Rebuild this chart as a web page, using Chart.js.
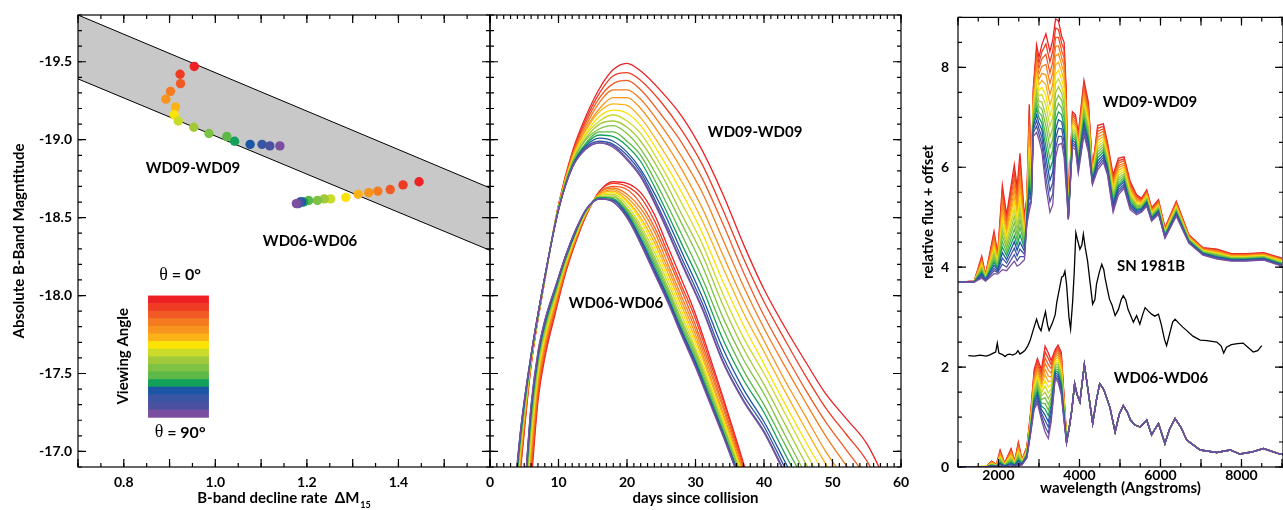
<!DOCTYPE html>
<html>
<head>
<meta charset="utf-8">
<script src="https://cdn.jsdelivr.net/npm/chart.js@4.4.1/dist/chart.umd.min.js"></script>
<style>
html, body { margin: 0; padding: 0; background: #fff; }
#wrap { position: relative; width: 1283px; height: 510px; overflow: hidden; }
#wrap canvas { position: absolute; left: 0; top: 0; }
</style>
</head>
<body>
<div id="wrap">
<canvas id="decline" width="1283" height="510"></canvas>
<canvas id="curves" width="1283" height="510"></canvas>
<canvas id="spectra" width="1283" height="510"></canvas>
</div>
<script>
// viewing angle 0 deg (red) ... 90 deg (purple)
var angleColors = ['#ed2024','#ef3b24','#f15a24','#f47b20','#f7941d','#fbb216','#fde304','#cbdb2a',
                   '#a2c93a','#7dc243','#5cb947','#13a05b','#1b55a5','#3a55a4','#4a51a1','#7b4f9f'];

// left panel: peak B magnitude vs decline rate
var wd09Decline = [0.954,0.923,0.924,0.902,0.892,0.913,0.910,0.919,0.953,0.986,1.025,1.042,1.076,1.102,1.119,1.141];
var wd09Peak = [-19.47,-19.42,-19.36,-19.31,-19.26,-19.21,-19.16,-19.12,-19.08,-19.04,-19.02,-18.99,-18.97,-18.97,-18.96,-18.96];
var wd06Decline = [1.445,1.410,1.382,1.355,1.335,1.312,1.285,1.252,1.238,1.223,1.204,1.193,1.188,1.185,1.181,1.177];
var wd06Peak = [-18.73,-18.71,-18.68,-18.67,-18.66,-18.65,-18.63,-18.62,-18.62,-18.61,-18.61,-18.60,-18.60,-18.60,-18.59,-18.59];
var bandX = [0.7, 1.6];
var bandUpper = [-19.80, -18.69];
var bandLower = [-19.39, -18.29];
var declineTicks = [0.8, 1.0, 1.2, 1.4];
var magTicks = [-19.5, -19.0, -18.5, -18.0, -17.5, -17.0];

// middle panel: B light curves, one row per day, one column per angle
var wd09Days = [3,4.5,6,8,10,12,14,16,18,20,22,25,28,31,34,37,40,43,46,49,52,55,58];
var wd09Mag = [
[-16.25,-16.27,-16.29,-16.30,-16.32,-16.34,-16.35,-16.37,-16.38,-16.40,-16.41,-16.42,-16.43,-16.44,-16.45,-16.45],
[-16.90,-16.92,-16.95,-16.97,-16.99,-17.01,-17.03,-17.05,-17.07,-17.08,-17.10,-17.12,-17.13,-17.14,-17.15,-17.15],
[-17.55,-17.56,-17.56,-17.57,-17.58,-17.58,-17.59,-17.59,-17.60,-17.60,-17.61,-17.61,-17.61,-17.62,-17.62,-17.62],
[-18.10,-18.10,-18.10,-18.11,-18.11,-18.11,-18.11,-18.11,-18.11,-18.11,-18.12,-18.12,-18.12,-18.12,-18.12,-18.12],
[-18.58,-18.58,-18.57,-18.57,-18.57,-18.57,-18.56,-18.56,-18.56,-18.56,-18.56,-18.55,-18.55,-18.55,-18.55,-18.55],
[-18.92,-18.91,-18.90,-18.89,-18.88,-18.88,-18.87,-18.86,-18.85,-18.85,-18.84,-18.83,-18.83,-18.82,-18.82,-18.82],
[-19.15,-19.13,-19.11,-19.09,-19.07,-19.06,-19.04,-19.03,-19.01,-19.00,-18.98,-18.97,-18.96,-18.95,-18.94,-18.94],
[-19.33,-19.30,-19.27,-19.24,-19.20,-19.18,-19.15,-19.12,-19.10,-19.07,-19.05,-19.03,-19.01,-18.99,-18.98,-18.98],
[-19.45,-19.41,-19.36,-19.32,-19.27,-19.23,-19.19,-19.16,-19.12,-19.09,-19.05,-19.02,-18.99,-18.97,-18.96,-18.95],
[-19.49,-19.43,-19.38,-19.32,-19.27,-19.22,-19.17,-19.12,-19.08,-19.04,-18.99,-18.96,-18.92,-18.90,-18.88,-18.87],
[-19.44,-19.38,-19.32,-19.26,-19.20,-19.14,-19.09,-19.04,-18.99,-18.94,-18.90,-18.86,-18.81,-18.79,-18.77,-18.76],
[-19.31,-19.24,-19.16,-19.09,-19.02,-18.95,-18.89,-18.83,-18.78,-18.72,-18.66,-18.61,-18.57,-18.53,-18.51,-18.50],
[-19.15,-19.06,-18.98,-18.89,-18.81,-18.73,-18.66,-18.59,-18.52,-18.46,-18.39,-18.33,-18.28,-18.24,-18.21,-18.20],
[-18.93,-18.84,-18.75,-18.66,-18.56,-18.48,-18.40,-18.33,-18.26,-18.19,-18.11,-18.05,-17.99,-17.95,-17.92,-17.91],
[-18.65,-18.55,-18.46,-18.36,-18.26,-18.18,-18.09,-18.01,-17.94,-17.86,-17.79,-17.72,-17.66,-17.61,-17.58,-17.57],
[-18.33,-18.24,-18.15,-18.06,-17.97,-17.89,-17.81,-17.73,-17.66,-17.59,-17.52,-17.46,-17.40,-17.36,-17.33,-17.32],
[-18.04,-17.96,-17.87,-17.79,-17.71,-17.64,-17.56,-17.50,-17.43,-17.37,-17.30,-17.25,-17.19,-17.16,-17.13,-17.12],
[-17.80,-17.72,-17.63,-17.55,-17.46,-17.39,-17.31,-17.25,-17.18,-17.11,-17.05,-16.99,-16.94,-16.90,-16.87,-16.86],
[-17.58,-17.49,-17.40,-17.32,-17.23,-17.15,-17.07,-17.00,-16.93,-16.86,-16.80,-16.74,-16.68,-16.64,-16.61,-16.60],
[-17.37,-17.28,-17.19,-17.10,-17.00,-16.92,-16.84,-16.77,-16.70,-16.63,-16.55,-16.49,-16.43,-16.39,-16.36,-16.35],
[-17.21,-17.11,-17.01,-16.91,-16.81,-16.72,-16.63,-16.56,-16.48,-16.40,-16.32,-16.26,-16.19,-16.14,-16.11,-16.10],
[-17.05,-16.94,-16.83,-16.73,-16.62,-16.52,-16.43,-16.34,-16.26,-16.17,-16.09,-16.02,-15.95,-15.90,-15.86,-15.85],
[-16.79,-16.68,-16.58,-16.47,-16.36,-16.27,-16.17,-16.09,-16.01,-15.92,-15.84,-15.77,-15.70,-15.65,-15.61,-15.60]
];
var wd06Days = [4,5,6,7,8,9.5,11,12.5,14,16,18,20,22,24,26,28,30,32,34,36,38];
var wd06Mag = [
[-15.90,-15.93,-15.96,-15.99,-16.02,-16.04,-16.07,-16.09,-16.11,-16.13,-16.15,-16.16,-16.18,-16.19,-16.19,-16.20],
[-16.35,-16.39,-16.42,-16.46,-16.49,-16.53,-16.56,-16.59,-16.61,-16.64,-16.66,-16.68,-16.69,-16.70,-16.71,-16.72],
[-16.80,-16.85,-16.90,-16.95,-17.00,-17.04,-17.08,-17.12,-17.16,-17.19,-17.22,-17.24,-17.26,-17.28,-17.29,-17.30],
[-17.32,-17.35,-17.38,-17.42,-17.45,-17.47,-17.50,-17.53,-17.55,-17.57,-17.59,-17.60,-17.61,-17.62,-17.63,-17.64],
[-17.60,-17.62,-17.65,-17.67,-17.69,-17.72,-17.73,-17.75,-17.77,-17.79,-17.80,-17.81,-17.82,-17.83,-17.84,-17.84],
[-17.88,-17.90,-17.91,-17.93,-17.95,-17.96,-17.98,-17.99,-18.00,-18.01,-18.02,-18.03,-18.04,-18.04,-18.05,-18.05],
[-18.14,-18.15,-18.16,-18.17,-18.18,-18.19,-18.20,-18.21,-18.22,-18.22,-18.23,-18.24,-18.24,-18.25,-18.25,-18.25],
[-18.34,-18.35,-18.36,-18.36,-18.37,-18.38,-18.38,-18.39,-18.40,-18.40,-18.41,-18.41,-18.41,-18.42,-18.42,-18.42],
[-18.51,-18.51,-18.52,-18.52,-18.53,-18.53,-18.53,-18.54,-18.54,-18.54,-18.54,-18.55,-18.55,-18.55,-18.55,-18.55],
[-18.67,-18.67,-18.66,-18.66,-18.65,-18.65,-18.64,-18.64,-18.63,-18.63,-18.63,-18.63,-18.62,-18.62,-18.62,-18.62],
[-18.73,-18.72,-18.70,-18.69,-18.68,-18.67,-18.66,-18.65,-18.64,-18.63,-18.62,-18.62,-18.61,-18.61,-18.60,-18.60],
[-18.72,-18.70,-18.68,-18.65,-18.63,-18.61,-18.60,-18.58,-18.56,-18.55,-18.54,-18.53,-18.52,-18.51,-18.50,-18.50],
[-18.66,-18.63,-18.59,-18.56,-18.53,-18.50,-18.48,-18.45,-18.43,-18.41,-18.39,-18.37,-18.36,-18.35,-18.34,-18.33],
[-18.52,-18.48,-18.44,-18.41,-18.37,-18.34,-18.31,-18.28,-18.25,-18.23,-18.21,-18.19,-18.17,-18.16,-18.15,-18.14],
[-18.31,-18.27,-18.24,-18.20,-18.17,-18.14,-18.11,-18.08,-18.05,-18.03,-18.01,-17.99,-17.98,-17.97,-17.96,-17.95],
[-18.10,-18.06,-18.03,-17.99,-17.96,-17.93,-17.90,-17.87,-17.84,-17.82,-17.80,-17.78,-17.77,-17.76,-17.75,-17.74],
[-17.88,-17.85,-17.81,-17.78,-17.75,-17.72,-17.69,-17.66,-17.64,-17.62,-17.60,-17.58,-17.57,-17.56,-17.55,-17.54],
[-17.62,-17.59,-17.56,-17.53,-17.50,-17.48,-17.45,-17.43,-17.41,-17.39,-17.37,-17.36,-17.34,-17.34,-17.33,-17.32],
[-17.35,-17.33,-17.30,-17.28,-17.25,-17.23,-17.21,-17.19,-17.17,-17.16,-17.14,-17.13,-17.12,-17.11,-17.11,-17.10],
[-17.07,-17.05,-17.03,-17.01,-16.99,-16.97,-16.96,-16.94,-16.93,-16.92,-16.90,-16.89,-16.89,-16.88,-16.87,-16.87],
[-16.78,-16.77,-16.75,-16.74,-16.73,-16.71,-16.70,-16.69,-16.68,-16.67,-16.66,-16.66,-16.65,-16.65,-16.64,-16.64]
];
var dayTicks = [0, 10, 20, 30, 40, 50, 60];

// right panel: spectra (relative flux + offset), one row per wavelength
var wd09Wave = [1000,1400,1585,1680,1890,1980,2095,2200,2390,2460,2530,2640,2700,2760,2810,2860,2940,3000,3070,3170,
  3270,3340,3410,3480,3560,3620,3670,3725,3825,3900,3970,4110,4220,4320,4450,4590,4690,4830,4960,5100,
  5250,5410,5530,5660,5780,5950,6110,6390,6700,7050,7400,7750,8100,8550,9000];
var wd09Flux = [
[3.70,3.70,3.70,3.70,3.70,3.70,3.70,3.70,3.70,3.70,3.70,3.70,3.70,3.70,3.70,3.70],
[3.72,3.72,3.72,3.72,3.71,3.71,3.71,3.71,3.71,3.71,3.71,3.71,3.70,3.70,3.70,3.70],
[4.22,4.19,4.16,4.13,4.10,4.07,4.04,4.01,3.99,3.96,3.93,3.90,3.87,3.84,3.81,3.78],
[3.85,3.84,3.83,3.82,3.82,3.81,3.80,3.79,3.78,3.77,3.76,3.75,3.75,3.74,3.73,3.72],
[4.72,4.66,4.61,4.55,4.49,4.44,4.38,4.32,4.27,4.21,4.15,4.10,4.04,3.98,3.93,3.87],
[4.26,4.23,4.21,4.18,4.15,4.13,4.10,4.07,4.05,4.02,3.99,3.97,3.94,3.91,3.89,3.86],
[5.64,5.53,5.41,5.30,5.19,5.08,4.96,4.85,4.74,4.63,4.51,4.40,4.29,4.18,4.06,3.95],
[5.05,4.98,4.90,4.83,4.75,4.68,4.60,4.53,4.45,4.38,4.30,4.23,4.15,4.08,4.00,3.93],
[6.05,5.92,5.79,5.66,5.54,5.41,5.28,5.15,5.02,4.89,4.76,4.63,4.51,4.38,4.25,4.12],
[5.60,5.49,5.39,5.28,5.18,5.07,4.97,4.86,4.76,4.65,4.55,4.44,4.34,4.23,4.13,4.02],
[6.28,6.13,5.98,5.84,5.69,5.54,5.39,5.24,5.10,4.95,4.80,4.65,4.50,4.36,4.21,4.06],
[5.00,4.94,4.89,4.83,4.77,4.72,4.66,4.60,4.55,4.49,4.43,4.38,4.32,4.26,4.21,4.15],
[5.40,5.36,5.33,5.29,5.25,5.22,5.18,5.14,5.11,5.07,5.03,5.00,4.96,4.92,4.89,4.85],
[7.26,7.12,6.97,6.83,6.69,6.55,6.40,6.26,6.12,5.98,5.83,5.69,5.55,5.41,5.26,5.12],
[5.60,5.58,5.56,5.54,5.52,5.50,5.48,5.46,5.44,5.42,5.40,5.38,5.36,5.34,5.32,5.30],
[7.60,7.53,7.47,7.40,7.34,7.27,7.21,7.14,7.08,7.01,6.95,6.88,6.82,6.75,6.69,6.62],
[8.45,8.33,8.22,8.10,7.98,7.87,7.75,7.63,7.52,7.40,7.28,7.17,7.05,6.93,6.82,6.70],
[8.20,8.09,7.98,7.87,7.76,7.65,7.54,7.43,7.32,7.21,7.10,6.99,6.88,6.77,6.66,6.55],
[8.45,8.31,8.17,8.02,7.88,7.74,7.60,7.46,7.31,7.17,7.03,6.89,6.75,6.60,6.46,6.32],
[8.67,8.47,8.26,8.06,7.85,7.65,7.44,7.24,7.03,6.83,6.62,6.42,6.21,6.01,5.80,5.60],
[8.32,8.11,7.89,7.68,7.46,7.25,7.03,6.82,6.60,6.39,6.17,5.96,5.74,5.53,5.31,5.10],
[8.55,8.33,8.11,7.89,7.67,7.45,7.23,7.01,6.79,6.57,6.35,6.13,5.91,5.69,5.47,5.25],
[8.97,8.79,8.60,8.42,8.23,8.05,7.86,7.68,7.49,7.31,7.12,6.94,6.75,6.57,6.38,6.20],
[8.93,8.76,8.60,8.43,8.27,8.10,7.94,7.77,7.61,7.44,7.28,7.11,6.95,6.78,6.62,6.45],
[8.62,8.48,8.33,8.19,8.05,7.91,7.76,7.62,7.48,7.34,7.19,7.05,6.91,6.77,6.62,6.48],
[8.50,8.35,8.19,8.04,7.89,7.73,7.58,7.43,7.27,7.12,6.97,6.81,6.66,6.51,6.35,6.20],
[7.60,7.47,7.33,7.20,7.07,6.93,6.80,6.67,6.53,6.40,6.27,6.13,6.00,5.87,5.73,5.60],
[5.10,5.09,5.08,5.07,5.06,5.05,5.04,5.03,5.02,5.01,5.00,4.99,4.98,4.97,4.96,4.95],
[7.11,7.06,7.02,6.97,6.92,6.87,6.83,6.78,6.73,6.68,6.64,6.59,6.54,6.49,6.45,6.40],
[7.05,7.00,6.96,6.91,6.86,6.82,6.77,6.72,6.68,6.63,6.58,6.54,6.49,6.44,6.40,6.35],
[6.68,6.63,6.57,6.52,6.47,6.41,6.36,6.31,6.25,6.20,6.15,6.09,6.04,5.99,5.93,5.88],
[7.74,7.67,7.59,7.52,7.45,7.38,7.30,7.23,7.16,7.09,7.01,6.94,6.87,6.80,6.72,6.65],
[7.30,7.23,7.17,7.10,7.03,6.97,6.90,6.83,6.77,6.70,6.63,6.57,6.50,6.43,6.37,6.30],
[5.98,5.96,5.94,5.91,5.89,5.87,5.85,5.83,5.80,5.78,5.76,5.74,5.72,5.69,5.67,5.65],
[6.84,6.78,6.72,6.66,6.60,6.54,6.48,6.42,6.37,6.31,6.25,6.19,6.13,6.07,6.01,5.95],
[6.87,6.82,6.77,6.72,6.66,6.61,6.56,6.51,6.46,6.41,6.36,6.31,6.25,6.20,6.15,6.10],
[6.50,6.46,6.41,6.37,6.33,6.28,6.24,6.20,6.15,6.11,6.07,6.02,5.98,5.94,5.89,5.85],
[5.85,5.80,5.75,5.70,5.65,5.60,5.55,5.50,5.45,5.40,5.35,5.30,5.25,5.20,5.15,5.10],
[6.18,6.13,6.08,6.03,5.99,5.94,5.89,5.84,5.79,5.74,5.69,5.64,5.60,5.55,5.50,5.45],
[6.21,6.17,6.13,6.08,6.04,6.00,5.96,5.92,5.87,5.83,5.79,5.75,5.71,5.66,5.62,5.58],
[5.72,5.68,5.64,5.61,5.57,5.53,5.49,5.45,5.42,5.38,5.34,5.30,5.26,5.23,5.19,5.15],
[5.45,5.42,5.40,5.37,5.34,5.32,5.29,5.26,5.24,5.21,5.18,5.16,5.13,5.10,5.08,5.05],
[5.38,5.36,5.34,5.32,5.31,5.29,5.27,5.25,5.23,5.21,5.19,5.17,5.16,5.14,5.12,5.10],
[5.55,5.53,5.51,5.48,5.46,5.44,5.42,5.40,5.37,5.35,5.33,5.31,5.29,5.26,5.24,5.22],
[5.19,5.17,5.15,5.14,5.12,5.10,5.08,5.06,5.05,5.03,5.01,4.99,4.97,4.96,4.94,4.92],
[5.35,5.33,5.31,5.29,5.27,5.25,5.23,5.21,5.20,5.18,5.16,5.14,5.12,5.10,5.08,5.06],
[4.79,4.78,4.76,4.75,4.73,4.72,4.71,4.69,4.68,4.66,4.65,4.64,4.62,4.61,4.59,4.58],
[5.32,5.30,5.28,5.26,5.24,5.22,5.20,5.18,5.16,5.14,5.12,5.10,5.08,5.06,5.04,5.02],
[4.65,4.64,4.63,4.62,4.60,4.59,4.58,4.57,4.56,4.55,4.54,4.53,4.51,4.50,4.49,4.48],
[4.39,4.38,4.37,4.36,4.35,4.34,4.33,4.32,4.31,4.30,4.29,4.28,4.27,4.26,4.25,4.24],
[4.36,4.35,4.33,4.32,4.31,4.29,4.28,4.27,4.25,4.24,4.23,4.21,4.20,4.19,4.17,4.16],
[4.27,4.26,4.25,4.24,4.23,4.22,4.21,4.20,4.19,4.18,4.17,4.16,4.15,4.14,4.13,4.12],
[4.27,4.26,4.25,4.24,4.23,4.22,4.21,4.20,4.19,4.18,4.17,4.16,4.15,4.14,4.13,4.12],
[4.29,4.28,4.27,4.26,4.25,4.24,4.23,4.22,4.21,4.20,4.19,4.18,4.17,4.16,4.15,4.14],
[4.18,4.17,4.16,4.15,4.14,4.13,4.12,4.11,4.09,4.08,4.07,4.06,4.05,4.04,4.03,4.02]
];
// WD06-WD06 differs with angle only in the UV; redward of 3700 A the angles coincide
var wd06Wave = [1000,1700,1830,1950,2040,2150,2310,2400,2490,2580,2700,2800,2880,2960,3060,3150,3230,3300,3400,3470,3550,3620,3680];
var wd06Flux = [
[0,0,0,0,0,0,0,0,0,0,0,0,0,0,0,0],
[0.01,0.01,0.01,0.01,0.01,0.01,0.01,0.01,0,0,0,0,0,0,0,0],
[0.12,0.11,0.10,0.10,0.09,0.08,0.07,0.06,0.06,0.05,0.04,0.03,0.02,0.02,0.01,0],
[0.05,0.05,0.04,0.04,0.04,0.03,0.03,0.03,0.02,0.02,0.02,0.01,0.01,0.01,0,0],
[0.34,0.32,0.29,0.27,0.25,0.23,0.20,0.18,0.16,0.14,0.11,0.09,0.07,0.05,0.02,0],
[0.08,0.07,0.07,0.06,0.06,0.05,0.05,0.04,0.04,0.03,0.03,0.02,0.02,0.01,0.01,0],
[0.37,0.35,0.32,0.30,0.27,0.25,0.22,0.20,0.17,0.15,0.12,0.10,0.07,0.05,0.02,0],
[0.12,0.11,0.11,0.10,0.09,0.08,0.08,0.07,0.06,0.05,0.05,0.04,0.03,0.02,0.02,0.01],
[0.50,0.47,0.44,0.40,0.37,0.34,0.31,0.28,0.24,0.21,0.18,0.15,0.12,0.08,0.05,0.02],
[0.15,0.14,0.14,0.13,0.12,0.11,0.11,0.10,0.09,0.08,0.08,0.07,0.06,0.05,0.05,0.04],
[0.40,0.39,0.37,0.36,0.34,0.33,0.31,0.30,0.28,0.27,0.25,0.24,0.22,0.21,0.19,0.18],
[1.15,1.12,1.09,1.06,1.03,1.00,0.97,0.94,0.91,0.88,0.85,0.82,0.79,0.76,0.73,0.70],
[1.95,1.90,1.84,1.79,1.74,1.68,1.63,1.58,1.52,1.47,1.42,1.36,1.31,1.26,1.20,1.15],
[2.17,2.11,2.05,1.99,1.93,1.87,1.81,1.75,1.70,1.64,1.58,1.52,1.46,1.40,1.34,1.28],
[1.95,1.88,1.82,1.75,1.68,1.62,1.55,1.48,1.42,1.35,1.28,1.22,1.15,1.08,1.02,0.95],
[2.42,2.31,2.19,2.08,1.96,1.85,1.73,1.62,1.50,1.39,1.27,1.16,1.04,0.93,0.81,0.70],
[2.28,2.17,2.05,1.94,1.82,1.71,1.60,1.48,1.37,1.25,1.14,1.03,0.91,0.80,0.68,0.57],
[2.13,2.05,1.97,1.88,1.80,1.72,1.64,1.56,1.47,1.39,1.31,1.23,1.15,1.06,0.98,0.90],
[2.35,2.31,2.27,2.23,2.20,2.16,2.12,2.08,2.04,2.00,1.96,1.93,1.89,1.85,1.81,1.77],
[2.44,2.39,2.34,2.29,2.24,2.19,2.14,2.09,2.05,2.00,1.95,1.90,1.85,1.80,1.75,1.70],
[2.30,2.24,2.19,2.13,2.07,2.02,1.96,1.90,1.85,1.79,1.73,1.68,1.62,1.56,1.51,1.45],
[1.40,1.37,1.33,1.30,1.27,1.23,1.20,1.17,1.13,1.10,1.07,1.03,1.00,0.97,0.93,0.90],
[0.60,0.59,0.58,0.57,0.57,0.56,0.55,0.54,0.53,0.52,0.51,0.50,0.50,0.49,0.48,0.47]
];
var wd06TailWave = [3740,3810,3880,3940,4010,4120,4200,4325,4420,4500,4600,4750,4880,4980,5080,5180,5260,5370,
  5500,5660,5780,5880,5950,6110,6220,6360,6500,6650,6980,7390,7720,7960,8250,8540,8950,9030];
var wd06TailFlux = [0.75,1.14,1.67,1.45,1.30,2.05,1.60,0.87,1.35,1.67,1.55,1.20,0.70,1.05,1.23,1.10,0.94,0.84,
  0.80,0.94,0.64,0.78,0.87,0.47,0.75,0.97,0.80,0.54,0.34,0.29,0.34,0.26,0.30,0.37,0.26,0.25];
var sn1981bWave = [1255,1400,1550,1700,1800,1870,1930,1970,2010,2100,2160,2220,2280,2350,2430,2480,2530,2600,2650,2720,
  2780,2860,2940,3000,3050,3110,3160,3210,3250,3330,3400,3440,3500,3560,3600,3640,3680,3740,3780,3830,
  3870,3910,3950,4010,4060,4095,4140,4200,4260,4325,4380,4420,4490,4550,4600,4630,4690,4740,4800,4880,
  4960,5030,5080,5140,5200,5250,5330,5410,5490,5560,5620,5700,5780,5860,5950,6020,6100,6150,6220,6300,
  6360,6450,6550,6650,6800,6980,7150,7390,7500,7560,7630,7750,7900,8040,8150,8290,8400,8500];
var sn1981bFlux = [2.23,2.22,2.24,2.22,2.25,2.28,2.30,2.48,2.28,2.25,2.21,2.25,2.26,2.24,2.27,2.33,2.26,2.30,2.33,2.42,
  2.53,2.75,2.96,2.80,2.73,2.95,3.11,2.85,2.73,2.88,3.05,3.30,3.55,3.80,3.82,3.92,3.66,3.00,2.76,3.30,
  3.90,4.69,4.55,4.36,4.45,4.66,4.40,4.12,3.70,3.26,3.35,3.66,3.90,4.06,3.95,3.79,3.55,3.36,3.25,3.03,
  3.15,3.35,3.43,3.35,3.15,3.06,2.90,3.03,2.86,3.05,3.19,3.12,3.06,3.02,3.06,2.85,2.55,2.43,2.65,2.90,
  2.96,2.88,2.80,2.73,2.62,2.54,2.53,2.50,2.42,2.28,2.40,2.45,2.47,2.48,2.40,2.30,2.33,2.43];
var waveTicks = [2000, 4000, 6000, 8000];
var fluxTicks = [0, 2, 4, 6, 8];

var FONT = 'Lato, "Open Sans", sans-serif';
Chart.defaults.font.family = FONT;
Chart.defaults.font.weight = 'bold';
Chart.defaults.font.size = 14;
Chart.defaults.color = '#000';
Chart.defaults.animation = false;
Chart.defaults.plugins.legend.display = false;
Chart.defaults.plugins.tooltip.enabled = false;

// frame with inward ticks on all four sides, text labels, colour bar legend
var decor = {
  id: 'decor',
  afterDraw: function (chart, args, o) {
    var ctx = chart.ctx, a = chart.chartArea, sx = chart.scales.x, sy = chart.scales.y;
    ctx.save();
    if (o.bar) {
      var bx0 = sx.getPixelForValue(o.bar.x0), bx1 = sx.getPixelForValue(o.bar.x1);
      var by0 = sy.getPixelForValue(o.bar.y0), by1 = sy.getPixelForValue(o.bar.y1);
      var bh = (by1 - by0) / angleColors.length;
      angleColors.forEach(function (c, i) {
        ctx.fillStyle = c;
        ctx.fillRect(bx0, by0 + i * bh, bx1 - bx0, bh + 0.6);
      });
      ctx.fillStyle = '#000';
      ctx.textBaseline = 'middle';
      o.bar.ends.forEach(function (e) {
        var px = sx.getPixelForValue(e.x), py = sy.getPixelForValue(e.y);
        ctx.font = '18px "Liberation Serif", serif';
        var w1 = ctx.measureText('\u03b8').width;
        ctx.font = 'bold 16px ' + FONT;
        var w2 = ctx.measureText(e.text).width;
        var left = px - (w1 + w2) / 2;
        ctx.textAlign = 'left';
        ctx.font = '18px "Liberation Serif", serif';
        ctx.fillText('\u03b8', left, py);
        ctx.font = 'bold 16px ' + FONT;
        ctx.fillText(e.text, left + w1, py);
      });
      ctx.save();
      ctx.translate(sx.getPixelForValue(o.bar.titleX), sy.getPixelForValue(o.bar.titleY));
      ctx.rotate(-Math.PI / 2);
      ctx.textAlign = 'center';
      ctx.font = 'bold 15px ' + FONT;
      ctx.fillText('Viewing Angle', 0, 0);
      ctx.restore();
    }
    ctx.strokeStyle = '#000';
    ctx.lineWidth = 1.2;
    ctx.strokeRect(a.left, a.top, a.right - a.left, a.bottom - a.top);
    function marks(scale, step, len, horiz) {
      var k0 = Math.ceil(scale.min / step - 1e-6), k1 = Math.floor(scale.max / step + 1e-6);
      ctx.beginPath();
      for (var k = k0; k <= k1; k++) {
        var p = scale.getPixelForValue(k * step);
        if (horiz) {
          ctx.moveTo(p, a.bottom); ctx.lineTo(p, a.bottom - len);
          ctx.moveTo(p, a.top); ctx.lineTo(p, a.top + len);
        } else {
          ctx.moveTo(a.left, p); ctx.lineTo(a.left + len, p);
          ctx.moveTo(a.right, p); ctx.lineTo(a.right - len, p);
        }
      }
      ctx.stroke();
    }
    marks(sx, o.xMinor, 4, true); marks(sx, o.xMajor, 8, true);
    marks(sy, o.yMinor, 4, false); marks(sy, o.yMajor, 8, false);

    ctx.fillStyle = '#000';
    ctx.textAlign = 'center';
    ctx.textBaseline = 'middle';
    ctx.font = 'bold 15px ' + FONT;
    (o.labels || []).forEach(function (l) {
      ctx.fillText(l.text, sx.getPixelForValue(l.x), sy.getPixelForValue(l.y));
    });
    if (o.declineTitle) {
      var cx = (a.left + a.right) / 2;
      ctx.font = 'bold 15px ' + FONT;
      var main = 'B-band decline rate  \u0394M';
      var w = ctx.measureText(main).width;
      ctx.font = 'bold 9px ' + FONT;
      var ws = ctx.measureText('15').width;
      var x0 = cx - (w + ws + 1) / 2;
      ctx.textAlign = 'left';
      ctx.textBaseline = 'alphabetic';
      ctx.font = 'bold 15px ' + FONT;
      ctx.fillText(main, x0, 503);
      ctx.font = 'bold 9px ' + FONT;
      ctx.fillText('15', x0 + w + 1, 508);
    }
    if (o.fluxTitle) {
      ctx.save();
      ctx.translate(o.fluxTitle.x, o.fluxTitle.y);
      ctx.rotate(-Math.PI / 2);
      ctx.textAlign = 'center';
      ctx.textBaseline = 'middle';
      ctx.font = 'bold 15px ' + FONT;
      ctx.fillText(o.fluxTitle.text, 0, 0);
      ctx.restore();
    }
    ctx.restore();
  }
};

function fixedTicks(list) {
  return function (s) { s.ticks = list.map(function (v) { return {value: v}; }); };
}
var noGrid = {display: false, drawTicks: false};

function lightCurves(days, table) {
  return angleColors.map(function (c, a) {
    return {
      data: days.map(function (d, j) { return {x: d, y: table[j][a]}; }),
      borderColor: c, borderWidth: 1.3, pointRadius: 0,
      cubicInterpolationMode: 'monotone', fill: false, order: angleColors.length - a
    };
  });
}
function spectra(waves, table, tailWaves, tail) {
  return angleColors.map(function (c, a) {
    var pts = waves.map(function (w, j) { return {x: w, y: table[j][a]}; });
    if (tailWaves) pts = pts.concat(tailWaves.map(function (w, j) { return {x: w, y: tail[j]}; }));
    return {data: pts, borderColor: c, borderWidth: 1.3, pointRadius: 0, tension: 0,
            fill: false, order: angleColors.length - a};
  });
}

// left: decline-rate relation
new Chart(document.getElementById('decline'), {
  type: 'scatter',
  data: {datasets: [
    {type: 'line', data: bandX.map(function (v, i) { return {x: v, y: bandLower[i]}; }),
     borderColor: '#000', borderWidth: 1, pointRadius: 0, fill: '+1', backgroundColor: '#c8c8c8', order: 10},
    {type: 'line', data: bandX.map(function (v, i) { return {x: v, y: bandUpper[i]}; }),
     borderColor: '#000', borderWidth: 1, pointRadius: 0, fill: false, order: 9},
    {data: wd09Decline.map(function (v, i) { return {x: v, y: wd09Peak[i]}; }),
     pointBackgroundColor: angleColors, pointBorderWidth: 0, pointRadius: 4.7, order: 1},
    {data: wd06Decline.map(function (v, i) { return {x: v, y: wd06Peak[i]}; }),
     pointBackgroundColor: angleColors, pointBorderWidth: 0, pointRadius: 4.7, order: 1}
  ]},
  options: {
    responsive: false,
    events: [],
    layout: {autoPadding: false, padding: {left: 0, right: 793, top: 15, bottom: 0}},
    scales: {
      x: {type: 'linear', min: 0.7, max: 1.6, grid: noGrid, border: {display: false},
          afterFit: function (s) { s.height = 43; }, afterBuildTicks: fixedTicks(declineTicks),
          ticks: {padding: 7, autoSkip: false, maxRotation: 0, callback: function (v) { return v.toFixed(1); }}},
      y: {type: 'linear', min: -19.8, max: -16.9, reverse: true, grid: noGrid, border: {display: false},
          afterFit: function (s) { s.width = 78; }, afterBuildTicks: fixedTicks(magTicks),
          ticks: {padding: 6, autoSkip: false, callback: function (v) { return v.toFixed(1); }},
          title: {display: true, text: 'Absolute B-Band Magntitude', font: {size: 15}, padding: {top: 10, bottom: 0}}}
    },
    plugins: {
      decor: {
        xMinor: 0.05, xMajor: 0.1, yMinor: 0.1, yMajor: 0.5,
        labels: [{text: 'WD09-WD09', x: 0.951, y: -18.82}, {text: 'WD06-WD06', x: 1.207, y: -18.35}],
        declineTitle: true,
        bar: {x0: 0.853, x1: 0.986, y0: -18.0, y1: -17.22, titleX: 0.798, titleY: -17.61,
              ends: [{text: ' = 0\u00b0', x: 0.923, y: -18.13}, {text: ' = 90\u00b0', x: 0.923, y: -17.12}]}
      }
    }
  },
  plugins: [decor]
});

// middle: light curves
new Chart(document.getElementById('curves'), {
  type: 'line',
  data: {datasets: lightCurves(wd09Days, wd09Mag).concat(lightCurves(wd06Days, wd06Mag))},
  options: {
    responsive: false,
    events: [],
    layout: {autoPadding: false, padding: {left: 490, right: 382, top: 15, bottom: 0}},
    scales: {
      x: {type: 'linear', min: 0, max: 60, grid: noGrid, border: {display: false},
          afterFit: function (s) { s.height = 43; }, afterBuildTicks: fixedTicks(dayTicks),
          ticks: {padding: 7, autoSkip: false, maxRotation: 0},
          title: {display: true, text: 'days since collision', font: {size: 15}, padding: {top: 0, bottom: 3}}},
      y: {type: 'linear', min: -19.8, max: -16.9, reverse: true, grid: noGrid, border: {display: false},
          afterFit: function (s) { s.width = 0; }, ticks: {display: false}}
    },
    plugins: {
      decor: {
        xMinor: 1, xMajor: 10, yMinor: 0.1, yMajor: 0.5,
        labels: [{text: 'WD09-WD09', x: 38.7, y: -19.05}, {text: 'WD06-WD06', x: 18.4, y: -17.95}]
      }
    }
  },
  plugins: [decor]
});

// right: spectra
new Chart(document.getElementById('spectra'), {
  type: 'line',
  data: {datasets: spectra(wd09Wave, wd09Flux).concat(spectra(wd06Wave, wd06Flux, wd06TailWave, wd06TailFlux)).concat([
    {data: sn1981bWave.map(function (w, j) { return {x: w, y: sn1981bFlux[j]}; }),
     borderColor: '#000', borderWidth: 1.3, pointRadius: 0, tension: 0, fill: false, order: 0}
  ])},
  options: {
    responsive: false,
    events: [],
    layout: {autoPadding: false, padding: {left: 910, right: 0, top: 15, bottom: 0}},
    scales: {
      x: {type: 'linear', min: 1000, max: 9025, grid: noGrid, border: {display: false},
          afterFit: function (s) { s.height = 43; }, afterBuildTicks: fixedTicks(waveTicks),
          ticks: {padding: 0, autoSkip: false, maxRotation: 0, callback: function (v) { return String(v); }},
          title: {display: true, text: 'wavelength (Angstroms)', font: {size: 15}, padding: {top: 0, bottom: 13}}},
      y: {type: 'linear', min: 0, max: 9, grid: noGrid, border: {display: false},
          afterFit: function (s) { s.width = 48; }, afterBuildTicks: fixedTicks(fluxTicks),
          ticks: {padding: 9, autoSkip: false, callback: function (v) { return String(v); }}}
    },
    plugins: {
      decor: {
        xMinor: 500, xMajor: 1000, yMinor: 0.5, yMajor: 2,
        labels: [{text: 'WD09-WD09', x: 5741, y: 7.31}, {text: 'SN 1981B', x: 5765, y: 4.02},
                 {text: 'WD06-WD06', x: 6012, y: 1.77}],
        fluxTitle: {text: 'relative flux + offset', x: 928, y: 212}
      }
    }
  },
  plugins: [decor]
});
</script>
</body>
</html>
